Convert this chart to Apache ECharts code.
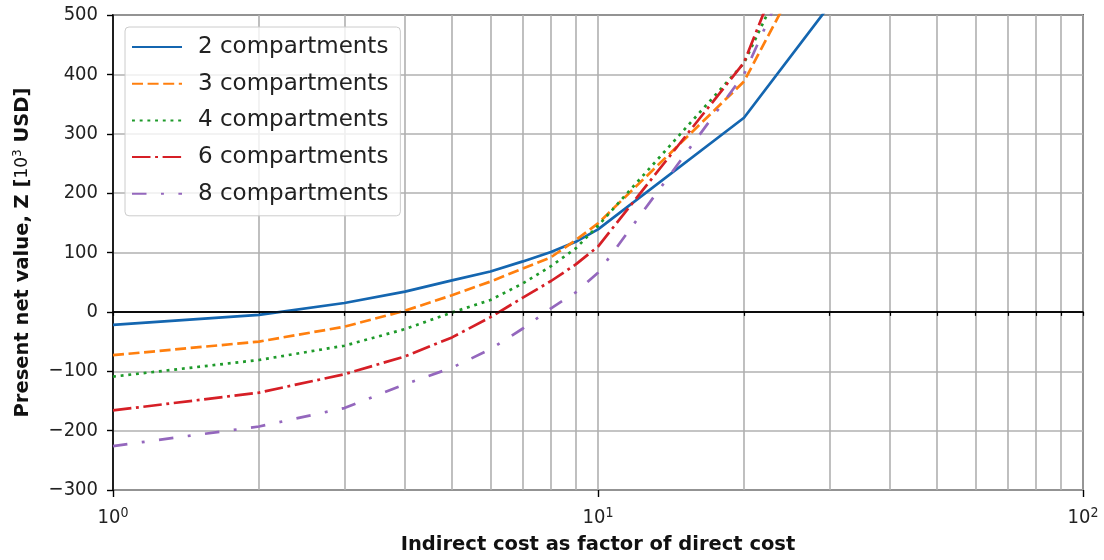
<!DOCTYPE html>
<html>
<head>
<meta charset="utf-8">
<script src="https://cdn.jsdelivr.net/npm/echarts@6/dist/echarts.min.js"></script>
<style>
html,body{margin:0;padding:0;background:#fff;}
#c{width:1104px;height:560px;}
</style>
</head>
<body>
<div id="c"></div>
<script>
// ---- data ----
var factors = [1, 2, 3, 4, 5, 6, 7, 8, 9, 10, 20, 30];
var seriesNames = ['2 compartments', '3 compartments', '4 compartments', '6 compartments', '8 compartments'];
var comp2 = [-22, -5, 15, 34, 53, 68, 85, 101, 118, 139, 327, 516];
var comp3 = [-73, -50, -25, 2, 28, 51, 73, 92, 121, 149, 388, 660];
var comp4 = [-109, -81, -57, -29, -1, 20, 48, 77, 107, 145, 419, 722];
var comp6 = [-166, -136, -105, -75, -43, -9, 24, 52, 80, 110, 420, 781];
var comp8 = [-226, -193, -162, -122, -94, -63, -28, 6, 33, 66, 400, 720];
var xMajorTicks = [1, 10, 100];
var xAllTicks = [1, 2, 3, 4, 5, 6, 7, 8, 9, 10, 20, 30, 40, 50, 60, 70, 80, 90, 100];
var yTicks = [-300, -200, -100, 0, 100, 200, 300, 400, 500];

var values = [comp2, comp3, comp4, comp6, comp8];
var colors = ['#1466b0', '#ff7f0e', '#1e9a2a', '#d61f26', '#9467bd'];
var dashes = ['solid', [11, 4.6], [2.9, 4.8], [18.5, 4.6, 2.9, 4.6], [14.5, 14.5, 2.9, 14.5]];
var tickFont = '"DejaVu Sans Condensed", "DejaVu Sans", sans-serif';

function pairs(arr) {
  return factors.map(function (f, i) { return [f, arr[i]]; });
}

var series = values.map(function (arr, k) {
  var s = {
    name: seriesNames[k],
    type: 'line',
    data: pairs(arr),
    symbol: 'none',
    clip: true,
    animation: false,
    lineStyle: { color: colors[k], width: 2.7, type: dashes[k], cap: 'butt' },
    itemStyle: { color: colors[k] },
    z: 3
  };
  if (k === 0) {
    s.markLine = {
      silent: true,
      symbol: ['none', 'none'],
      label: { show: false },
      animation: false,
      lineStyle: { color: '#000', width: 1.6, type: 'solid' },
      data: [{ yAxis: 0 }]
    };
  }
  return s;
});

var chart = echarts.init(document.getElementById('c'), null, { renderer: 'canvas' });
chart.setOption({
  backgroundColor: '#fff',
  animation: false,
  grid: {
    left: 113, right: 21, top: 15, bottom: 70,
    show: true, borderColor: '#000', borderWidth: 1.6, backgroundColor: 'transparent'
  },
  legend: {
    orient: 'vertical',
    left: 125, top: 27,
    itemWidth: 50, itemHeight: 14,
    itemGap: 12.7,
    padding: [8, 12, 10, 6],
    backgroundColor: 'rgba(255,255,255,0.8)',
    borderColor: '#cccccc', borderWidth: 1, borderRadius: 4,
    itemStyle: { opacity: 0, borderWidth: 0 },
    textStyle: { fontFamily: 'DejaVu Sans', fontSize: 23, color: '#222', lineHeight: 24, padding: [0, 0, 0, 11] },
    data: seriesNames
  },
  xAxis: [{
    type: 'log', logBase: 10, min: 1, max: 100,
    position: 'bottom',
    name: 'Indirect cost as factor of direct cost',
    nameLocation: 'middle', nameGap: 45,
    nameTextStyle: { fontFamily: 'DejaVu Sans', fontWeight: 'bold', fontSize: 19.5, color: '#111' },
    axisLine: { show: true, lineStyle: { color: '#000', width: 1.6 } },
    axisTick: { show: true, customValues: xAllTicks, length: 4, lineStyle: { color: '#000', width: 1.2 } },
    axisLabel: {
      customValues: xMajorTicks,
      margin: 16,
      formatter: function (v) {
        var e = Math.round(Math.log10(v));
        return '{a|10}{s|' + e + '}';
      },
      rich: {
        a: { fontFamily: tickFont, fontSize: 20, color: '#222' },
        s: { fontFamily: tickFont, fontSize: 14, color: '#222', padding: [0, 0, 10, 0] }
      }
    },
    splitLine: { show: true, lineStyle: { color: '#b0b0b0', width: 1.6 } },
    minorSplitLine: { show: false }
  }, {
    type: 'log', logBase: 10, min: 1, max: 100,
    position: 'bottom',
    axisLine: { show: false },
    axisTick: { show: true, customValues: xMajorTicks, length: 7, lineStyle: { color: '#000', width: 1.4 } },
    axisLabel: { show: false },
    splitLine: { show: false }
  }],
  yAxis: {
    type: 'value', min: -300, max: 500, interval: 100,
    name: '{b|Present net value, Z [}{n|10}{p|3}{b| USD]}',
    nameLocation: 'middle', nameGap: 80, nameRotate: 90,
    nameTextStyle: {
      rich: {
        b: { fontFamily: 'DejaVu Sans', fontWeight: 'bold', fontSize: 19.5, color: '#111' },
        n: { fontFamily: 'DejaVu Sans', fontSize: 17, color: '#111' },
        p: { fontFamily: 'DejaVu Sans', fontSize: 12, color: '#111', padding: [0, 0, 9, 0] }
      }
    },
    axisLine: { show: true, lineStyle: { color: '#000', width: 1.6 } },
    axisTick: { show: true, length: 6, lineStyle: { color: '#000', width: 1.4 } },
    axisLabel: {
      fontFamily: tickFont, fontSize: 20, color: '#222', margin: 15,
      customValues: yTicks,
      formatter: function (v) { return v < 0 ? '\u2212' + Math.abs(v) : String(v); }
    },
    splitLine: { show: true, lineStyle: { color: '#b0b0b0', width: 1.6 } }
  },
  series: series
});
</script>
</body>
</html>
